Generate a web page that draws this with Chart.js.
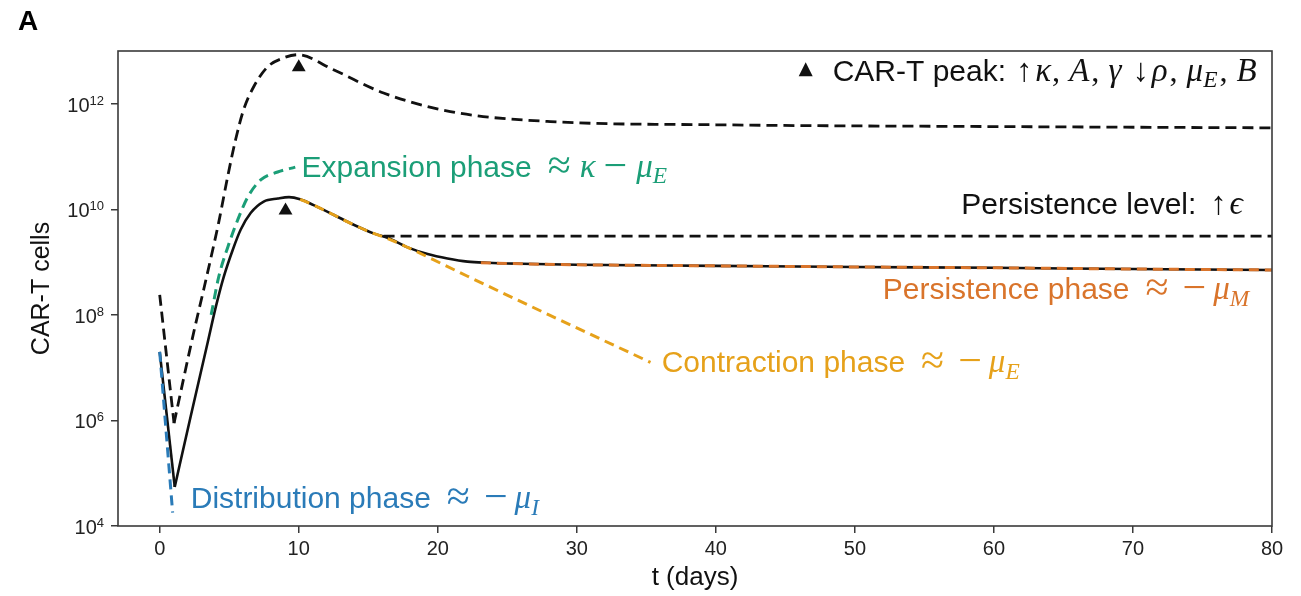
<!DOCTYPE html>
<html><head><meta charset="utf-8">
<script src="https://cdn.jsdelivr.net/npm/chart.js@4.4.1/dist/chart.umd.min.js"></script>
<style>html,body{margin:0;padding:0;background:#fff;overflow:hidden}canvas{display:block}</style>
</head><body>
<canvas id="c" width="1301" height="596"></canvas>
<script>
// ---------- data (t in days, N = CAR-T cells) ----------
const xTickValues = [0, 10, 20, 30, 40, 50, 60, 70, 80];
const yTickValues = [1e4, 1e6, 1e8, 1e10, 1e12];

const solidDropT = [0, 1.08];
const solidDropN = [2.0e7, 5.5e4];
const solidT = [1.08, 2.23, 3.45, 4.03, 4.60, 5.25, 5.82, 6.54, 7.48, 8.5, 9.3, 10.1, 11.07, 12.5, 13.95, 15.38, 16.39, 17.83, 19.27, 20.7, 22.14, 23.58, 26, 30, 40, 50, 60, 70, 80];
const solidN = [5.5e4, 1.2e6, 3.0e7, 1.4e8, 5.2e8, 1.7e9, 4.1e9, 8.5e9, 1.4e10, 1.6e10, 1.7e10, 1.55e10, 1.2e10, 7.9e9, 5.1e9, 3.5e9, 2.9e9, 1.9e9, 1.42e9, 1.17e9, 1.02e9, 9.7e8, 9.3e8, 8.9e8, 8.5e8, 8.1e8, 7.8e8, 7.4e8, 7.1e8];

const upperDropT = [0, 1.03];
const upperDropN = [2.4e8, 8.9e5];
const upperT = [1.03, 2.44, 3.16, 3.81, 4.24, 4.89, 5.46, 6.04, 6.76, 7.76, 8.91, 9.92, 12.5, 16.1, 20.9, 28.1, 40, 60, 80];
const upperN = [8.9e5, 4.6e7, 3.0e8, 1.7e9, 5.6e9, 4.2e10, 2.1e11, 7.8e11, 2.1e12, 5.0e12, 7.4e12, 8.5e12, 4.4e12, 1.6e12, 7.1e11, 4.6e11, 4.0e11, 3.7e11, 3.5e11];

const levelT = [16.1, 80];
const levelN = [3.1e9, 3.1e9];

const expansionT = [3.7, 4.24, 4.89, 5.61, 6.33, 7.26, 8.48, 9.75];
const expansionN = [1.0e8, 5.2e8, 1.9e9, 6.3e9, 1.7e10, 3.6e10, 5.1e10, 6.3e10];

const contractionT = [10.1, 11.07, 12.5, 13.95, 15.38, 16.39, 17.83, 22.14, 28.0, 35.3];
const contractionN = [1.55e10, 1.2e10, 7.9e9, 5.1e9, 3.5e9, 2.8e9, 1.9e9, 5.4e8, 1.0e8, 1.26e7];

const distributionT = [0, 0.93];
const distributionN = [2.0e7, 1.8e4];

const persistenceT = [23.1, 26, 30, 40, 50, 60, 70, 80];
const persistenceN = [9.75e8, 9.3e8, 8.9e8, 8.5e8, 8.1e8, 7.8e8, 7.4e8, 7.1e8];

const peakT = [10.0, 9.05];
const peakN = [4.9e12, 9.5e9];

// ---------- styling ----------
const SANS = '"Liberation Sans", Arial, Helvetica, sans-serif';
const SERIF = '"Liberation Serif", "DejaVu Serif", serif';
const C_BLACK = '#111111';
const C_GREEN = '#1b9e77';
const C_YELLOW = '#e6a11a';
const C_ORANGE = '#d9742b';
const C_BLUE = '#2a7bb8';

const pts = (T, N) => T.map((t, i) => ({x: t, y: N[i]}));

function lineDs(T, N, color, width, dash, order, smooth) {
  return {
    type: 'line', data: pts(T, N), borderColor: color, borderWidth: width,
    borderDash: dash, pointRadius: 0, fill: false, order: order,
    cubicInterpolationMode: smooth ? 'monotone' : 'default', tension: 0,
    borderCapStyle: 'butt', borderJoinStyle: 'round'
  };
}

const datasets = [
  {type: 'scatter', data: pts(peakT, peakN), pointStyle: 'triangle', pointRadius: 8,
   backgroundColor: C_BLACK, borderColor: C_BLACK, borderWidth: 0, order: 0},
  lineDs(persistenceT, persistenceN, C_ORANGE, 3, [10, 6], 1, true),
  lineDs(contractionT, contractionN, C_YELLOW, 3, [10, 6], 2, true),
  lineDs(distributionT, distributionN, C_BLUE, 3, [10, 6], 3, false),
  lineDs(expansionT, expansionN, C_GREEN, 3, [10, 6], 4, true),
  lineDs(solidDropT, solidDropN, C_BLACK, 2.6, [], 5, false),
  lineDs(solidT, solidN, C_BLACK, 2.6, [], 5, true),
  lineDs(upperDropT, upperDropN, C_BLACK, 2.8, [11, 6], 6, false),
  lineDs(upperT, upperN, C_BLACK, 2.8, [11, 6], 6, true),
  lineDs(levelT, levelN, C_BLACK, 2.8, [11, 6], 6, false)
];

// ---------- annotations (anchored in data coordinates) ----------
const FS = 30;
const FONT_OF = {
  sans: () => FS + 'px ' + SANS,
  op: () => (FS * 1.4) + 'px ' + SERIF,
  rm: () => (FS * 1.08) + 'px ' + SERIF,
  it: () => 'italic ' + (FS * 1.1) + 'px ' + SERIF,
  sub: () => 'italic ' + (FS * 0.78) + 'px ' + SERIF
};
const approxMinus = (letter) => [
  {t: '≈', f: 'op', pre: 16}, {t: '−', f: 'op', pre: 14}, {t: 'μ', f: 'it', pre: 7}, {t: letter, f: 'sub', pre: 0}
];
const annotations = [
  {t: 10.2, n: 6.6e10, align: 'left', color: C_GREEN,
   runs: [{t: 'Expansion phase', f: 'sans'}, {t: '≈', f: 'op', pre: 16}, {t: 'κ', f: 'it', pre: 9},
          {t: '−', f: 'op', pre: 8}, {t: 'μ', f: 'it', pre: 9}, {t: 'E', f: 'sub'}]},
  {t: 36.1, n: 1.3e7, align: 'left', color: C_YELLOW,
   runs: [{t: 'Contraction phase', f: 'sans'}].concat(approxMinus('E'))},
  {t: 2.23, n: 3.5e4, align: 'left', color: C_BLUE,
   runs: [{t: 'Distribution phase', f: 'sans'}].concat(approxMinus('I'))},
  {t: 52.0, n: 3.2e8, align: 'left', color: C_ORANGE,
   runs: [{t: 'Persistence phase', f: 'sans'}].concat(approxMinus('M'))},
  {t: 77.9, n: 1.3e10, align: 'right', color: C_BLACK,
   runs: [{t: 'Persistence level:', f: 'sans'}, {t: '↑', f: 'rm', pre: 14}, {t: 'ϵ', f: 'it', pre: 3}]},
  {t: 78.9, n: 4.4e12, align: 'right', color: C_BLACK, marker: true,
   runs: [{t: 'CAR-T peak:', f: 'sans'}, {t: '↑', f: 'rm', pre: 10}, {t: 'κ', f: 'it', pre: 3}, {t: ',', f: 'rm', pre: 1},
          {t: 'A', f: 'it', pre: 9}, {t: ',', f: 'rm', pre: 2}, {t: 'γ', f: 'it', pre: 9},
          {t: '↓', f: 'rm', pre: 11}, {t: 'ρ', f: 'it', pre: 3}, {t: ',', f: 'rm', pre: 2},
          {t: 'μ', f: 'it', pre: 9}, {t: 'E', f: 'sub'}, {t: ',', f: 'rm', pre: 2}, {t: 'B', f: 'it', pre: 9}]}
];

function drawRuns(ctx, a, x, yc) {
  const parts = a.runs.map(r => {
    ctx.font = FONT_OF[r.f]();
    return {t: r.t, font: ctx.font, w: ctx.measureText(r.t).width, pre: r.pre || 0,
            dy: r.f === 'sub' ? FS * 0.22 : (r.f === 'op' ? FS * 0.06 : 0)};
  });
  const total = parts.reduce((s, p) => s + p.w + p.pre, 0);
  let cx = a.align === 'right' ? x - total : x;
  const base = yc + FS * 0.716 / 2;
  ctx.fillStyle = a.color; ctx.textAlign = 'left'; ctx.textBaseline = 'alphabetic';
  if (a.marker) {
    const mx = cx - 27, h = 13, w = 14;
    ctx.beginPath();
    ctx.moveTo(mx, yc - h / 2 - 1); ctx.lineTo(mx + w / 2, yc + h / 2); ctx.lineTo(mx - w / 2, yc + h / 2); ctx.closePath();
    ctx.fill();
  }
  parts.forEach(p => { cx += p.pre; ctx.font = p.font; ctx.fillText(p.t, cx, base + p.dy); cx += p.w; });
}

const decorPlugin = {
  id: 'decor',
  afterDraw(chart) {
    const ctx = chart.ctx, ca = chart.chartArea;
    const xs = chart.scales.x, ys = chart.scales.y;
    ctx.save();
    ctx.strokeStyle = '#3a3a3a'; ctx.lineWidth = 1.6; ctx.setLineDash([]);
    ctx.strokeRect(ca.left, ca.top, ca.right - ca.left, ca.bottom - ca.top);
    yTickValues.forEach(v => {
      const py = ys.getPixelForValue(v);
      const e = String(Math.round(Math.log10(v)));
      ctx.fillStyle = '#222'; ctx.textBaseline = 'alphabetic';
      ctx.font = '13px ' + SANS; ctx.textAlign = 'right';
      const ew = ctx.measureText(e).width;
      const rx = ca.left - 14;
      ctx.fillText(e, rx, py + 1);
      ctx.font = '20px ' + SANS;
      ctx.fillText('10', rx - ew, py + 8);
    });
    ctx.fillStyle = '#000'; ctx.font = 'bold 28px ' + SANS; ctx.textAlign = 'left';
    ctx.fillText('A', 18, 30);
    annotations.forEach(a => drawRuns(ctx, a, xs.getPixelForValue(a.t), ys.getPixelForValue(a.n)));
    ctx.restore();
  }
};

new Chart(document.getElementById('c'), {
  data: {datasets},
  options: {
    responsive: false, animation: false,
    layout: {padding: {top: 51, right: 29, left: 0, bottom: 0}},
    plugins: {legend: {display: false}, tooltip: {enabled: false}},
    scales: {
      x: {
        type: 'linear', min: -3, max: 80,
        afterBuildTicks: s => { s.ticks = xTickValues.map(v => ({value: v})); },
        afterFit: s => { s.height = 70; },
        grid: {display: true, drawOnChartArea: false, drawTicks: true, tickLength: 7, color: '#3a3a3a', lineWidth: 1.5},
        border: {display: false},
        ticks: {font: {family: SANS, size: 20}, color: '#222', padding: 4, maxRotation: 0, autoSkip: false},
        title: {display: true, text: 't (days)', font: {family: SANS, size: 26}, color: '#111', padding: {top: 0, bottom: 3}}
      },
      y: {
        type: 'logarithmic', min: 1e4, max: 1e13,
        afterBuildTicks: s => { s.ticks = yTickValues.map(v => ({value: v})); },
        afterFit: s => { s.width = 118; },
        grid: {display: true, drawOnChartArea: false, drawTicks: true, tickLength: 7, color: '#3a3a3a', lineWidth: 1.5},
        border: {display: false},
        ticks: {display: false},
        title: {display: true, text: 'CAR-T cells', font: {family: SANS, size: 25}, color: '#111', padding: {top: 27, bottom: 0}}
      }
    }
  },
  plugins: [decorPlugin]
});
</script>
</body></html>
